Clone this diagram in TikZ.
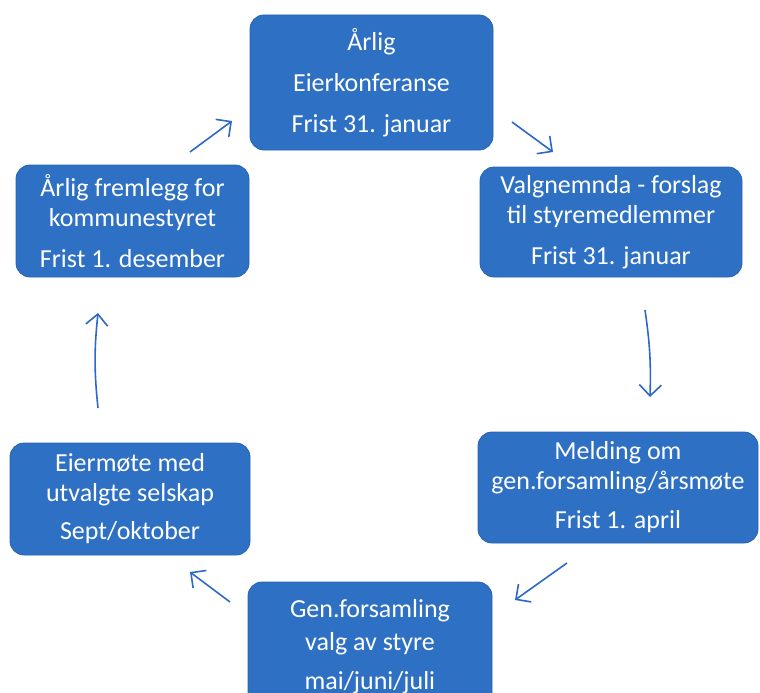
\documentclass[tikz,border=0pt]{standalone}
\usepackage{fontspec}
\setmainfont{Carlito}
\usetikzlibrary{arrows.meta}
\definecolor{boxblue}{RGB}{46,112,196}
\definecolor{boxedge}{RGB}{40,98,178}
\definecolor{arrowblue}{RGB}{44,104,200}
\begin{document}
\begin{tikzpicture}[x=1pt,y=-1pt,
  box/.style={draw=boxedge, line width=0.8pt, fill=boxblue, rounded corners=14pt,
    text=white, align=center, font=\fontsize{26}{30}\selectfont, inner sep=0pt},
  arr/.style={draw=arrowblue, line width=1.6pt, -{Straight Barb[length=11pt,width=22pt]}}]
\useasboundingbox (0,0) rectangle (760,693);
\clip (0,0) rectangle (760,693);
\node[box, minimum width=243pt, minimum height=135pt] (top) at (371.5,82.5)
  {Årlig\\[11pt]Eierkonferanse\\[11pt]Frist 31. januar};
\node[box, minimum width=262pt, minimum height=110pt] (valg) at (611,222)
  {Valgnemnda - forslag\\til styremedlemmer\\[11pt]Frist 31. januar};
\node[box, minimum width=280pt, minimum height=111pt] (meld) at (618,487.5)
  {Melding om\\gen.forsamling/årsmøte\\[9pt]Frist 1. april};
\node[box, minimum width=244pt, minimum height=130pt] (gen) at (370,647)
  {Gen.forsamling\\[3pt]valg av styre\\[9pt]mai/juni/juli};
\node[box, minimum width=240pt, minimum height=112pt] (eier) at (130,499)
  {Eiermøte med\\utvalgte selskap\\[8pt]Sept/oktober};
\node[box, minimum width=233pt, minimum height=112pt] (frem) at (132.5,221)
  {Årlig fremlegg for\\kommunestyret\\[11pt]Frist 1. desember};
\coordinate (a1s) at (190,152); \coordinate (a1e) at (232,121);
\coordinate (a2s) at (512,122); \coordinate (a2e) at (553,152);
\coordinate (a3s) at (645,310); \coordinate (a3e) at (650,397);
\coordinate (a4s) at (567,563); \coordinate (a4e) at (515,600);
\coordinate (a5s) at (230,602); \coordinate (a5e) at (190,572);
\coordinate (a6s) at (98,408);  \coordinate (a6e) at (98,313);
\draw[arr] (a1s) -- (a1e);
\draw[arr] (a2s) -- (a2e);
\draw[arr] (a3s) to[bend left=5] (a3e);
\draw[arr] (a4s) -- (a4e);
\draw[arr] (a5s) -- (a5e);
\draw[arr] (a6s) to[bend left=6] (a6e);
\end{tikzpicture}
\end{document}
